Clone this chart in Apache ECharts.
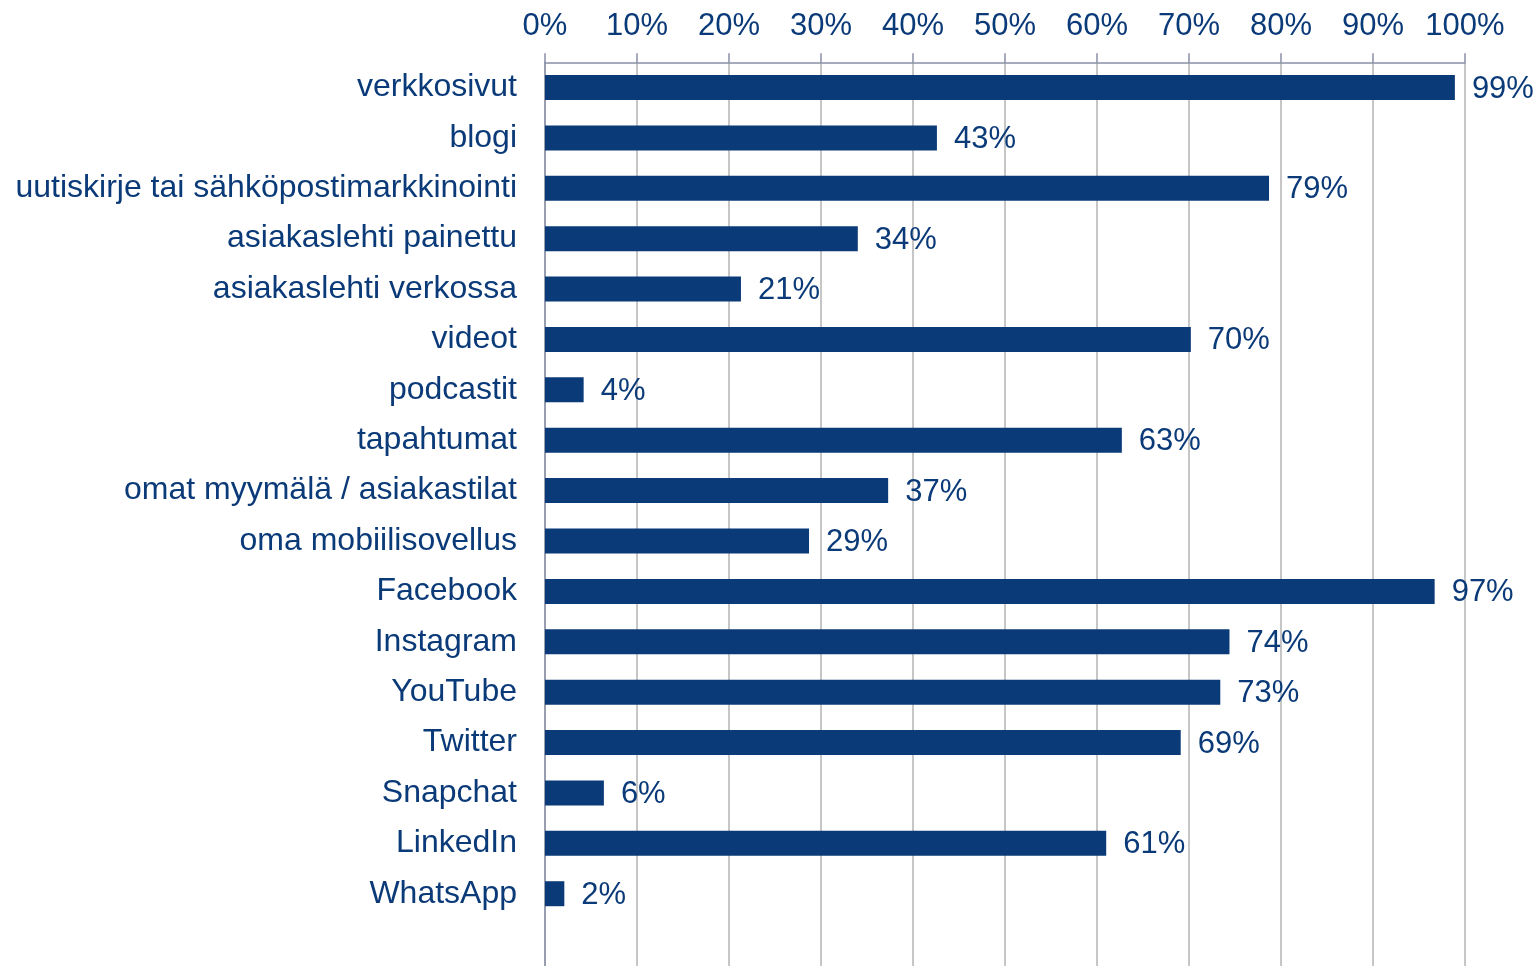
<!DOCTYPE html>
<html>
<head>
<meta charset="utf-8">
<script src="https://cdn.jsdelivr.net/npm/echarts@6/dist/echarts.min.js"></script>
<style>
html,body{margin:0;padding:0;background:#fff;overflow:hidden;}
#c{width:1533px;height:980px;}
</style>
</head>
<body>
<div id="c"></div>
<script>
const categories = ['verkkosivut','blogi','uutiskirje tai sähköpostimarkkinointi','asiakaslehti painettu','asiakaslehti verkossa','videot','podcastit','tapahtumat','omat myymälä / asiakastilat','oma mobiilisovellus','Facebook','Instagram','YouTube','Twitter','Snapchat','LinkedIn','WhatsApp'];
const values = [98.9, 42.6, 78.7, 34.0, 21.3, 70.2, 4.2, 62.7, 37.3, 28.7, 96.7, 74.4, 73.4, 69.1, 6.4, 61.0, 2.1];
const tickLabels = ['0%','10%','20%','30%','40%','50%','60%','70%','80%','90%','100%'];

const navy = '#0b3a78';
const chart = echarts.init(document.getElementById('c'));
chart.setOption({
  animation: false,
  textStyle: {fontFamily: 'Liberation Sans, Arial, sans-serif'},
  grid: {left: 545, width: 920, top: 62.3, height: 907, containLabel: false},
  xAxis: {
    type: 'value', position: 'top', min: 0, max: 100, interval: 10,
    axisLine: {show: true, lineStyle: {color: '#8890a8', width: 1.5}},
    axisTick: {show: true, inside: false, length: 9, lineStyle: {color: '#8890a8', width: 1.5}},
    axisLabel: {color: navy, fontSize: 31, margin: 20,
      formatter: v => tickLabels[Math.round(v / 10)]},
    splitLine: {show: true, lineStyle: {color: '#c6c6c6', width: 2}}
  },
  yAxis: {
    type: 'category', inverse: true, data: categories, max: categories.length,
    axisLine: {show: true, lineStyle: {color: '#8890a8', width: 1.5}},
    axisTick: {show: false},
    axisLabel: {color: navy, fontSize: 32, margin: 28, padding: [3, 0, 0, 0]}
  },
  series: [{
    type: 'bar', data: values, barWidth: 25,
    itemStyle: {color: navy},
    label: {show: true, position: 'right', distance: 17, color: navy, fontSize: 31,
      offset: [0, 1.5],
      formatter: p => Math.round(p.value) + '%'}
  }]
});
</script>
</body>
</html>
